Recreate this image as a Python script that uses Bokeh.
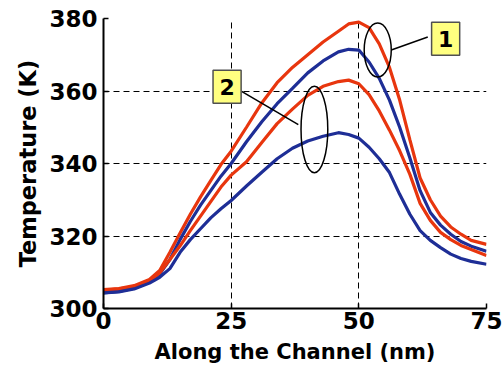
from bokeh.plotting import figure
from bokeh.models import Range1d, FixedTicker, ColumnDataSource
from bokeh.embed import file_html
from bokeh.resources import INLINE
from bokeh.core.properties import value

# ---- data ----
x_nm = [0, 3, 6, 9, 11, 13, 15, 17, 19, 21, 23, 25, 28, 31, 34, 37, 40, 43, 46, 48,
        50, 52, 54, 56, 58, 60, 62, 64, 66, 68, 70, 72, 75]

red_1 = [305.2, 305.5, 306.3, 308.0, 310.5, 315.5, 320.8, 326.0, 330.8, 335.3, 339.7,
         343.4, 350.0, 356.7, 362.3, 366.5, 370.0, 373.5, 376.5, 378.5,
         379.0, 377.5, 373.0, 366.5, 357.5, 346.5, 336.0, 330.0, 325.5, 322.5, 320.5, 318.8, 317.7]
blue_1 = [304.3, 304.7, 305.6, 307.3, 309.5, 313.5, 319.0, 324.0, 328.5, 332.5, 336.5,
          340.0, 346.0, 351.5, 356.5, 360.7, 365.0, 368.3, 370.8, 371.5,
          371.3, 368.0, 363.5, 357.5, 350.0, 341.5, 332.5, 326.5, 323.0, 320.5, 318.5, 317.2, 315.8]
red_2 = [305.0, 305.4, 306.0, 307.6, 309.8, 313.5, 317.3, 321.5, 325.5, 329.5, 333.5,
         336.8, 340.5, 345.8, 351.0, 355.0, 358.8, 361.3, 362.6, 363.0,
         362.0, 359.0, 354.5, 349.2, 343.5, 337.0, 329.0, 324.3, 321.0, 319.0, 317.4, 316.3, 314.6]
blue_2 = [304.3, 304.6, 305.4, 307.0, 308.6, 311.0, 315.5, 319.0, 322.0, 325.0, 327.5,
          329.8, 333.8, 337.6, 341.3, 344.2, 346.2, 347.5, 348.5, 348.0,
          347.0, 344.5, 341.3, 337.5, 331.5, 326.0, 321.5, 318.8, 316.8, 315.0, 313.8, 313.0, 312.2]

x_ticks = [0, 25, 50, 75]
y_ticks = [300, 320, 340, 360, 380]
box_labels = ["1", "2"]

RED = "#E8360E"
BLUE = "#1E2E96"
FONT = "DejaVu Sans"

p = figure(width=503, height=373, output_backend="svg", toolbar_location=None,
           x_range=Range1d(0, 75), y_range=Range1d(300, 380),
           min_border_left=103, min_border_right=17, min_border_top=18, min_border_bottom=65)
p.outline_line_color = None
p.background_fill_color = "white"
p.border_fill_color = "white"

for ax, ticks in ((p.xaxis[0], x_ticks), (p.yaxis[0], y_ticks)):
    ax.ticker = FixedTicker(ticks=ticks)
    ax.minor_tick_line_color = None
    ax.major_tick_in = 5
    ax.major_tick_out = 0
    ax.major_tick_line_width = 1.5
    ax.axis_line_width = 2
    ax.axis_line_color = "black"
    ax.major_label_text_font = FONT
    ax.major_label_text_font_style = "bold"
    ax.major_label_text_font_size = "23px"
    ax.major_label_text_color = "black"
    ax.axis_label_text_font = FONT
    ax.axis_label_text_font_style = "bold"
    ax.axis_label_text_color = "black"

p.xaxis.axis_label = "Along the Channel (nm)"
p.xaxis.axis_label_text_font_size = "21px"
p.xaxis.major_label_standoff = 3
p.xaxis.axis_label_standoff = 8
p.yaxis.axis_label = "Temperature (K)"
p.yaxis.axis_label_text_font_size = "22.5px"
p.yaxis.major_label_standoff = 6
p.yaxis.axis_label_standoff = 5

for g, ticks in ((p.xgrid[0], [25, 50, 75]), (p.ygrid[0], [320, 340, 360, 380])):
    g.ticker = FixedTicker(ticks=ticks)
    g.grid_line_color = "black"
    g.grid_line_dash = "6 4"
    g.grid_line_width = 1

for ys, c in ((red_1, RED), (blue_1, BLUE), (red_2, RED), (blue_2, BLUE)):
    p.line(x_nm, ys, line_color=c, line_width=3.2)

# annotations: ellipses, leader lines, labelled boxes
p.ellipse(x=[53.7], y=[371.3], width=5.3, height=14.9, fill_color=None,
          line_color="black", line_width=1.5)
p.ellipse(x=[41.3], y=[349.4], width=5.24, height=23.9, fill_color=None,
          line_color="black", line_width=1.5)
p.segment(x0=[63.5, 27.04], y0=[374.9, 359.9], x1=[56.35, 38.15], y1=[371.3, 350.7],
          line_color="black", line_width=1.5)

src = ColumnDataSource(dict(x=[67.0, 24.2], y=[374.4, 361.2], t=box_labels))
p.rect(x="x", y="y", width=5.5, height=9.1, source=src, fill_color="#FFFF80",
       line_color="#505050", line_width=1.5)
p.text(x="x", y="y", text="t", source=src, text_align="center", text_baseline="middle",
       text_font=value(FONT), text_font_style="bold", text_font_size="22px", text_color="black")

open("out.html", "w").write(file_html(p, INLINE))
